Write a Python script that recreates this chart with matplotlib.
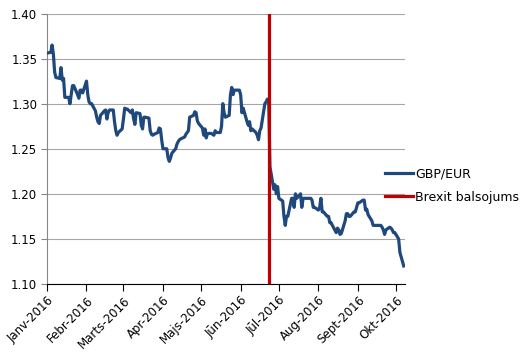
import numpy as np
import pandas as pd
import matplotlib
matplotlib.use("Agg")
import matplotlib.pyplot as plt

# -- data: GBP/EUR, business days 2016-01-01 .. 2016-10-07 --
gbp_eur = [
    1.356,
    1.357, 1.365, 1.355, 1.335, 1.329,   # Jan 4
    1.328, 1.340, 1.326, 1.328, 1.307,   # Jan 11
    1.307, 1.300, 1.310, 1.320, 1.320,   # Jan 18
    1.310, 1.306, 1.315, 1.315, 1.312,   # Jan 25
    1.325, 1.310, 1.302, 1.300, 1.300,   # Feb 1
    1.292, 1.285, 1.280, 1.278, 1.287,   # Feb 8
    1.292, 1.293, 1.283, 1.290, 1.293,   # Feb 15
    1.293, 1.280, 1.270, 1.265, 1.268,   # Feb 22
    1.272, 1.283, 1.295, 1.294, 1.294,   # Feb 29
    1.290, 1.293, 1.283, 1.277, 1.290,   # Mar 7
    1.289, 1.276, 1.272, 1.285, 1.285,   # Mar 14
    1.284, 1.270, 1.266, 1.265, 1.266,   # Mar 21
    1.268, 1.273, 1.272, 1.260, 1.250,   # Mar 28
    1.250, 1.240, 1.236, 1.240, 1.245,   # Apr 4
    1.250, 1.255, 1.258, 1.260, 1.261,   # Apr 11
    1.263, 1.266, 1.268, 1.270, 1.285,   # Apr 18
    1.287, 1.291, 1.290, 1.281, 1.278,   # Apr 25
    1.273, 1.265, 1.272, 1.262, 1.267,   # May 2
    1.267, 1.266, 1.265, 1.270, 1.268,   # May 9
    1.268, 1.275, 1.300, 1.290, 1.285,   # May 16
    1.287, 1.310, 1.318, 1.310, 1.315,   # May 23
    1.315, 1.315, 1.310, 1.290, 1.295,   # May 30
    1.280, 1.276, 1.280, 1.270, 1.272,   # Jun 6
    1.268, 1.265, 1.260, 1.270, 1.273,   # Jun 13
    1.300, 1.302, 1.305, 1.305, 1.230,   # Jun 20
    1.205, 1.210, 1.200, 1.208, 1.195,   # Jun 27
    1.192, 1.175, 1.165, 1.175, 1.175,   # Jul 4
    1.195, 1.195, 1.185, 1.200, 1.195,   # Jul 11
    1.200, 1.185, 1.195, 1.195, 1.195,   # Jul 18
    1.195, 1.195, 1.193, 1.185, 1.185,   # Jul 25
    1.182, 1.185, 1.195, 1.180, 1.180,   # Aug 1
    1.175, 1.175, 1.168, 1.168, 1.165,   # Aug 8
    1.157, 1.162, 1.160, 1.155, 1.156,   # Aug 15
    1.170, 1.178, 1.178, 1.175, 1.175,   # Aug 22
    1.180, 1.180, 1.185, 1.190, 1.190,   # Aug 29
    1.193, 1.193, 1.182, 1.183, 1.177,   # Sep 5
    1.170, 1.165, 1.165, 1.165, 1.165,   # Sep 12
    1.165, 1.163, 1.160, 1.155, 1.160,   # Sep 19
    1.163, 1.162, 1.160, 1.157, 1.157,   # Sep 26
    1.150, 1.135, 1.130, 1.125, 1.120,   # Oct 3
]
dates = pd.bdate_range("2016-01-01", "2016-10-07")
brexit_date = pd.Timestamp("2016-06-23")

month_starts = pd.date_range("2016-01-01", "2016-10-01", freq="MS")
month_labels = ["Janv-2016", "Febr-2016", "Marts-2016", "Apr-2016", "Majs-2016",
                "Jūn-2016", "Jūl-2016", "Aug-2016", "Sept-2016", "Okt-2016"]

y_ticks = [1.10, 1.15, 1.20, 1.25, 1.30, 1.35, 1.40]

plt.rcParams['font.family'] = ['DejaVu Sans']

fig = plt.figure(figsize=(5.28, 3.55), dpi=100)
ax = fig.add_axes([47 / 528, 1 - 284 / 355, (405 - 47) / 528, (284 - 13.5) / 355])

ax.plot(dates, gbp_eur, color="#1F497D", lw=2.3, label="GBP/EUR", zorder=3)
ax.axvline(brexit_date, color="#C00000", lw=2.3, label="Brexit balsojums", zorder=4)

ax.set_xlim(pd.Timestamp("2016-01-01"), pd.Timestamp("2016-10-08"))
ax.set_ylim(1.10, 1.40)
ax.set_yticks(y_ticks)
ax.set_yticklabels([f"{v:.2f}" for v in y_ticks], fontsize=8.5)
ax.set_xticks(month_starts)
ax.set_xticklabels(month_labels, rotation=45, ha="right", rotation_mode="anchor", fontsize=8.5)

ax.grid(axis="y", color="#A6A6A6", lw=0.8)
ax.set_axisbelow(True)
for s in ["top", "right"]:
    ax.spines[s].set_visible(False)
ax.spines["left"].set_color("#868686")
ax.spines["bottom"].set_color("#000000")
ax.tick_params(axis="y", length=4, color="#868686", pad=3)
ax.tick_params(axis="x", length=5, color="#000000", pad=2)

fig.legend(loc="center left", bbox_to_anchor=(385 / 528, 1 - 185.5 / 355),
           bbox_transform=fig.transFigure, frameon=False, fontsize=9,
           handlelength=2.2, handletextpad=0.2, borderpad=0, borderaxespad=0,
           labelspacing=0.8)

fig.savefig("out.png", dpi=100)
